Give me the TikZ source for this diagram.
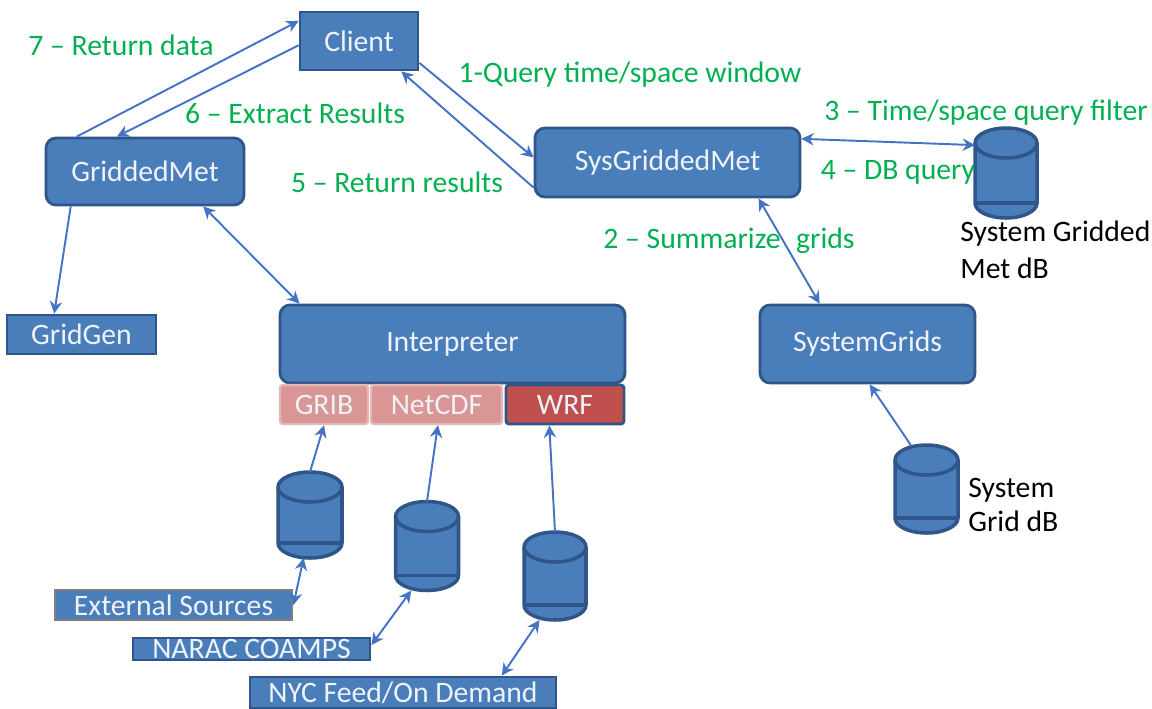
\documentclass[tikz,border=0pt]{standalone}
\usepackage{fontspec}
\setmainfont{Carlito}
\usetikzlibrary{arrows.meta,calc}
\definecolor{boxfill}{HTML}{4A7EBB}
\definecolor{boxline}{HTML}{2F5589}
\definecolor{boxtext}{HTML}{EEF3FA}
\definecolor{linkblue}{HTML}{4472C4}
\definecolor{labgreen}{HTML}{00B050}
\definecolor{pinkfill}{HTML}{D99694}
\definecolor{pinkline}{HTML}{E6B9B8}
\definecolor{redfill}{HTML}{C0504D}
\definecolor{greyline}{HTML}{7F7F7F}
\tikzset{
  txt/.style={font=\fontsize{16.9}{19}\selectfont},
  sqbox/.style={txt, draw=boxline, line width=1.6pt, fill=boxfill, text=boxtext,
    inner sep=0pt},
  rbox/.style={sqbox, rounded corners=0.2cm},
  fmt/.style={txt, draw=pinkline, line width=1.4pt, fill=pinkfill, text=boxtext,
    inner sep=0pt, rounded corners=0.06cm, minimum height=0.78cm},
  dbarea/.style={inner sep=0pt, outer sep=0pt},
  dbbody/.style={draw=boxline, line width=2pt, fill=boxfill},
  dbline/.style={draw=boxline, line width=2pt},
  lab/.style={txt, text=labgreen, inner sep=0pt},
  note/.style={txt, text=black, inner sep=0pt, align=left},
  link/.style={draw=linkblue, line width=1.1pt, -{Stealth[length=7pt,width=7pt]}},
  dlink/.style={draw=linkblue, line width=1.1pt, {Stealth[length=7pt,width=7pt]}-{Stealth[length=7pt,width=7pt]}}
}
% database can: name, centre, width, height; end ellipses have half-height 0.3cm
\newcommand\dbcan[4]{%
  \node[dbarea, minimum width=#3, minimum height=#4] (#1) at #2 {};
  \path[dbbody] ([yshift=-0.3cm]#1.north west) -- ([yshift=0.3cm]#1.south west)
    arc[start angle=180, end angle=360, x radius=#3/2, y radius=0.3cm]
    -- ([yshift=-0.3cm]#1.north east)
    arc[start angle=0, end angle=180, x radius=#3/2, y radius=0.3cm] -- cycle;
  \draw[dbline] ([yshift=-0.3cm]#1.north west)
    arc[start angle=180, end angle=360, x radius=#3/2, y radius=0.3cm];
  \draw[dbline] ([yshift=0.3cm]#1.south west) -- ([yshift=0.3cm]#1.south east);
}
\begin{document}
\begin{tikzpicture}[x=0.02cm, y=-0.02cm]
\useasboundingbox (0,0) rectangle (1152,708);

% components
\node[sqbox, minimum width=2.36cm, minimum height=1.16cm] (client) at (359,41) {Client};
\node[rbox, minimum width=3.96cm, minimum height=1.34cm] (gm) at (145,171.5) {GriddedMet};
\node[rbox, minimum width=5.3cm, minimum height=1.38cm] (sgm) at (667.5,162.5) {SysGriddedMet};
\node[sqbox, minimum width=2.98cm, minimum height=0.78cm] (gridgen) at (81.5,334.5) {GridGen};
\node[rbox, minimum width=6.9cm, minimum height=1.56cm] (interp) at (452.5,344) {Interpreter};
\node[rbox, minimum width=4.3cm, minimum height=1.56cm] (sysgrids) at (867.5,344) {SystemGrids};

% format plug-ins
\node[fmt, minimum width=1.76cm] (grib) at (324,404.5) {GRIB};
\node[fmt, minimum width=2.62cm] (netcdf) at (436.5,404.5) {NetCDF};
\node[fmt, draw=boxline, line width=1.6pt, fill=redfill, minimum width=2.36cm] (wrf) at (565,404.5) {WRF};

% data stores
\dbcan{dbmet}{(1006,173)}{1.24cm}{1.8cm}
\dbcan{cyl1}{(310,515)}{1.28cm}{1.72cm}
\dbcan{cyl2}{(427,546)}{1.26cm}{1.78cm}
\dbcan{cyl3}{(555,576)}{1.24cm}{1.76cm}
\dbcan{cylsg}{(926.5,489)}{1.26cm}{1.76cm}

% feeds
\node[sqbox, draw=greyline, minimum width=4.74cm, minimum height=0.6cm] (ext) at (173.5,605) {External Sources};
\node[sqbox, minimum width=4.74cm, minimum height=0.44cm] (narac) at (251.5,649) {NARAC COAMPS};
\node[sqbox, minimum width=6.12cm, minimum height=0.62cm] (nyc) at (403,692.5) {NYC Feed/On Demand};

% connectors
\draw[link] ($(gm.north west)!0.16!(gm.north east)$) -- ($(client.north west)!0.17!(client.south west)$);
\draw[link] ($(client.north west)!0.57!(client.south west)$) -- ($(gm.north west)!0.36!(gm.north east)$);
\draw[link] ($(client.north east)!0.86!(client.south east)$) -- ($(sgm.north west)!0.43!(sgm.south west)$);
\draw[link] ($(sgm.north west)!0.85!(sgm.south west)$) -- ($(client.south west)!0.85!(client.south east)$);
\draw[dlink] ($(sgm.north east)!0.17!(sgm.south east)$) -- ($(dbmet.north west)!0.19!(dbmet.south west)$);
\draw[dlink] ($(sgm.south west)!0.84!(sgm.south east)$) -- ($(sysgrids.north west)!0.28!(sysgrids.north east)$);
\draw[link] ($(gm.south west)!0.13!(gm.south east)$) -- ($(gridgen.north west)!0.32!(gridgen.north east)$);
\draw[dlink] ($(gm.south west)!0.79!(gm.south east)$) -- ($(interp.north west)!0.06!(interp.north east)$);
\draw[link] (cyl1.north) -- (grib.south);
\draw[dlink] ($(cyl1.south west)!0.4!(cyl1.south east)$) -- (ext.east);
\draw[link] (cyl2.north) -- ($(netcdf.south west)!0.51!(netcdf.south east)$);
\draw[dlink] ($(cyl2.south west)!0.25!(cyl2.south east)$) -- ([yshift=0.08cm]narac.east);
\draw[link] (cyl3.north) -- ($(wrf.south west)!0.37!(wrf.south east)$);
\draw[dlink] ($(cyl3.south west)!0.25!(cyl3.south east)$) -- ($(nyc.north west)!0.82!(nyc.north east)$);
\draw[link] ($(cylsg.north west)!0.25!(cylsg.north east)$) -- ($(sysgrids.south west)!0.51!(sysgrids.south east)$);

% step labels
\node[lab] (l7) at (121,45) {7 – Return data};
\node[lab] (l1) at (630,75) {1-Query time/space window};
\node[lab] (l6) at (295,113) {6 – Extract Results};
\node[lab] (l3) at (986,113) {3 – Time/space query filter};
\node[lab] (l5) at (397,182) {5 – Return results};
\node[lab] (l4) at (898,172) {4 – DB query};
\node[lab] (l2) at (729,241) {2 – Summarize\hspace{0.3em} grids};

% store names
\node[note, anchor=west, font=\fontsize{16.9}{21}\selectfont] (n1) at (960,249.5) {System Gridded\\Met dB};
\node[note, anchor=west, font=\fontsize{16.9}{19.3}\selectfont] (n2) at (968,505) {System\\Grid dB};
\end{tikzpicture}
\end{document}
